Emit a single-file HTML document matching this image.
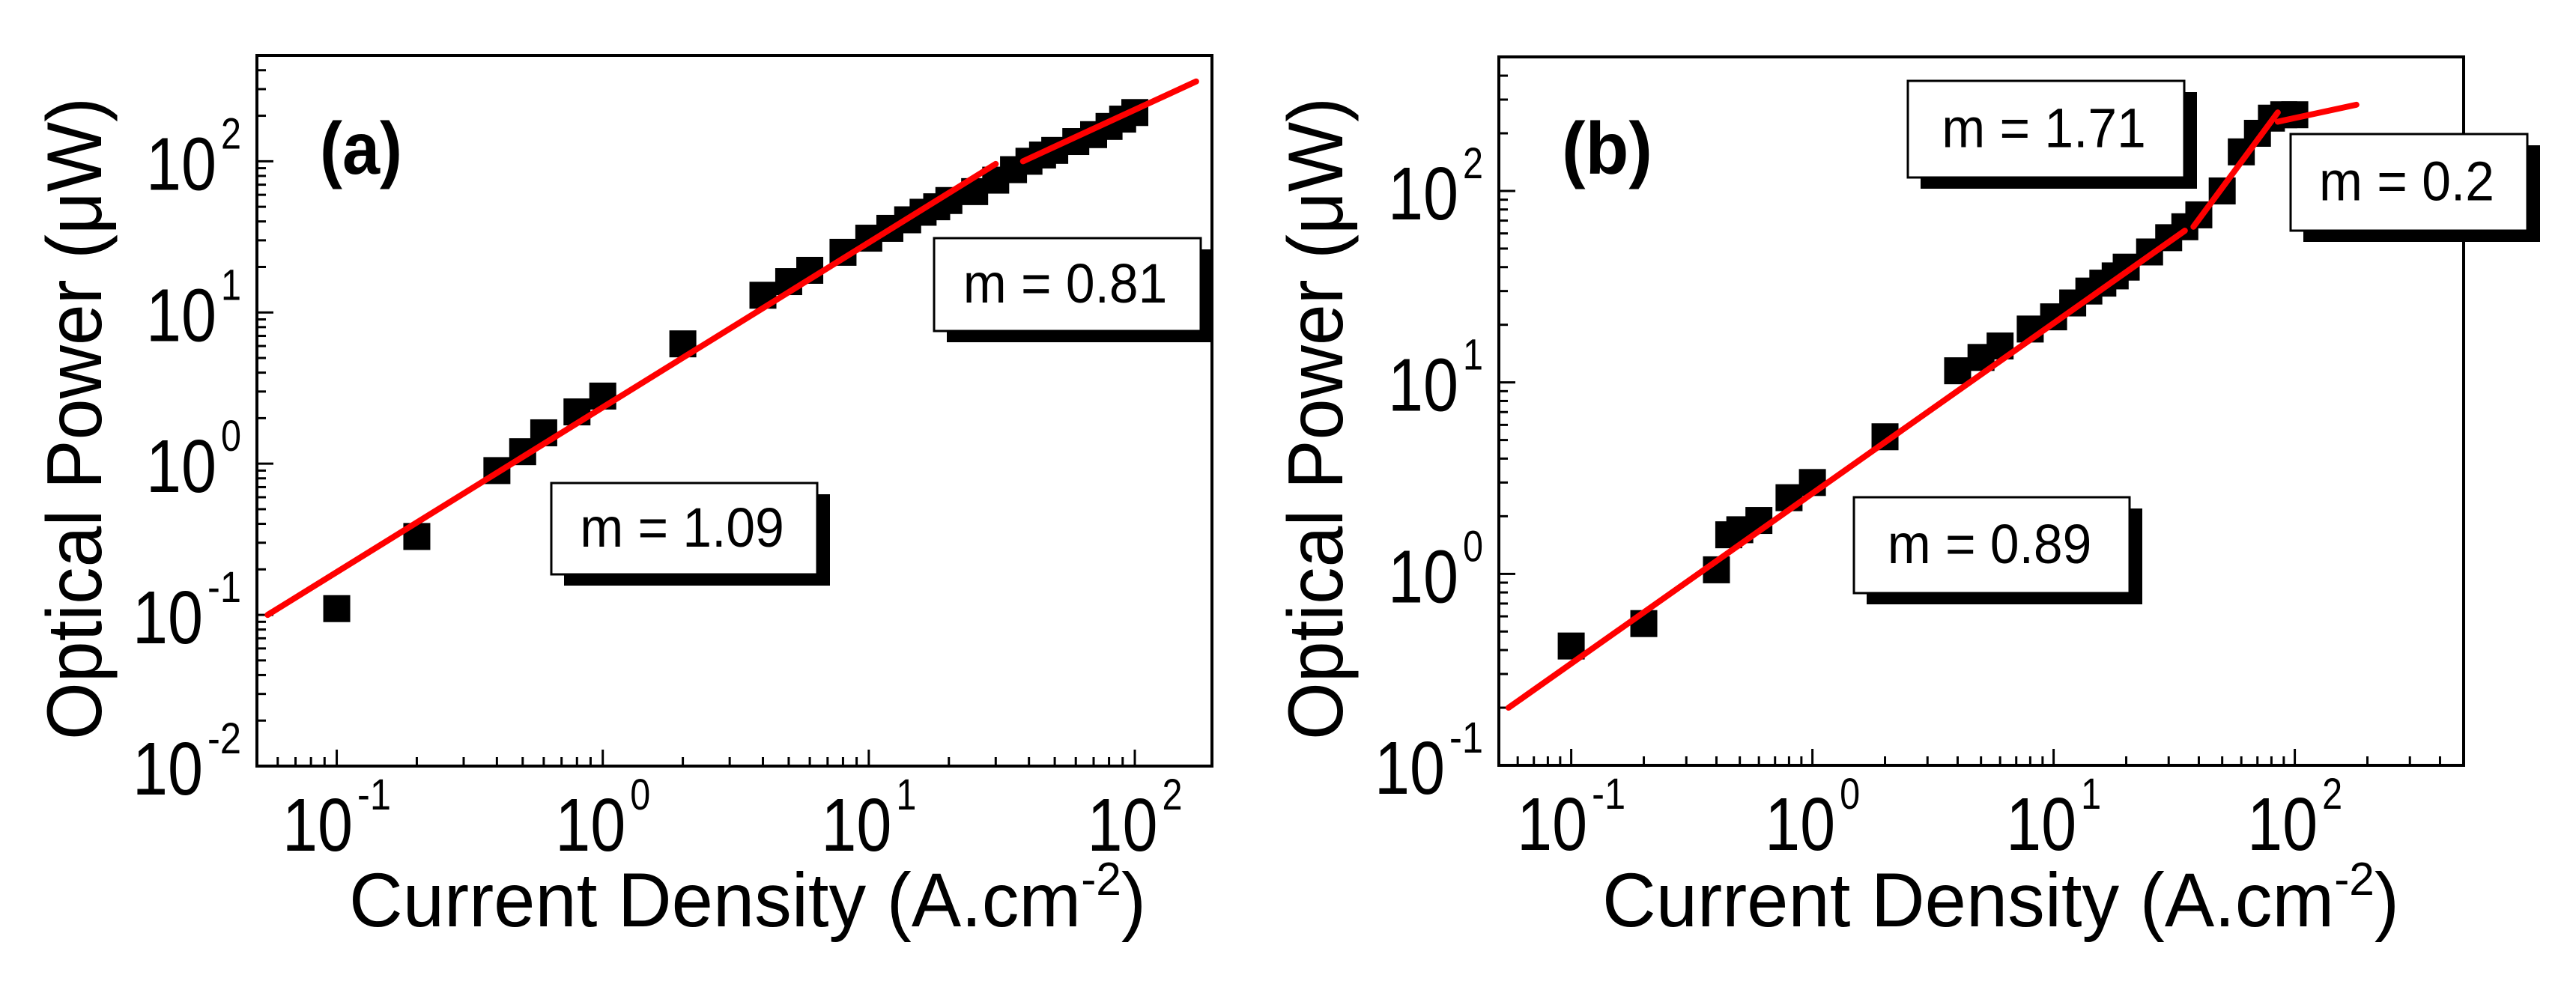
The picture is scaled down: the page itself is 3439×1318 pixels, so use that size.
<!DOCTYPE html>
<html><head><meta charset="utf-8">
<style>
html,body{margin:0;padding:0;background:#fff;}
svg{display:block;font-family:"Liberation Sans",Arial,sans-serif;}
</style></head>
<body>
<svg id="chart" width="3439" height="1318" viewBox="0 0 3439 1318" xmlns="http://www.w3.org/2000/svg"></svg>
<script>
// ---- Panel (a) data ----
const aX = [0.1,0.2,0.4,0.5,0.6,0.8,1.0,2,4,5,6,8,10,12,14,16,18,20,25,30,35,40,45,50,60,70,80,90,100];
const aY = [0.11,0.33,0.9,1.2,1.6,2.2,2.8,6.2,13,16,19,25,31,36,41,46,50,55,63,75,88,100,110,118,135,150,170,190,210];
const aFit1X = [0.055,30]; const aFit1Y = [0.1,96];
const aFit2X = [38,170]; const aFit2Y = [100,337];
const aXTicks = [-1,0,1,2];
const aYTicks = [-2,-1,0,1,2];
// ---- Panel (b) data ----
const bX = [0.1,0.2,0.4,0.45,0.5,0.6,0.8,1.0,2,4,5,6,8,10,12,14,16,18,20,25,30,35,40,50,60,70,80,90,100];
const bY = [0.42,0.55,1.05,1.6,1.7,1.9,2.5,3.0,5.2,11.5,13.5,15.5,19,22,26,30,33,36,40,48,57,65,75,100,160,200,240,250,250];
const bFit1X = [0.055,35]; const bFit1Y = [0.2,62];
const bFit2X = [38,85]; const bFit2Y = [65,257];
const bFit3X = [85,180]; const bFit3Y = [230,282];
const bXTicks = [-1,0,1,2];
const bYTicks = [-1,0,1,2];

const NS = "http://www.w3.org/2000/svg";
const svg = document.getElementById('chart');
function mk(tag, attrs, parent){
  const e = document.createElementNS(NS, tag);
  for (const k in attrs) e.setAttribute(k, attrs[k]);
  (parent||svg).appendChild(e);
  return e;
}
function squeeze(el, f){
  const w = el.getComputedTextLength();
  el.setAttribute('textLength', w*f);
  el.setAttribute('lengthAdjust', 'spacingAndGlyphs');
}
function supW(s){ let w=0; for (const c of s) w += (c==='-') ? 18 : 27; return w; }

function tickLabel(g, name, t, xStart, base){
  const tx = mk('text', {x:xStart, y:base, 'font-size':100}, g);
  
  
  tx.textContent = '10';
  tx.setAttribute('textLength', 94);
  tx.setAttribute('lengthAdjust', 'spacingAndGlyphs');
  const s = String(t);
  const sp = mk('text', {x:xStart+100, y:base-55, 'font-size':58}, g);
  
  
  sp.textContent = s;
  sp.setAttribute('textLength', supW(s));
  sp.setAttribute('lengthAdjust', 'spacingAndGlyphs');
}

function panel(p){
  const g = mk('g', {});
  
  
  const sx = v => p.L + (Math.log10(v) - p.xmin) / (p.xmax - p.xmin) * (p.R - p.L);
  const sy = v => p.B - (Math.log10(v) - p.ymin) / (p.ymax - p.ymin) * (p.B - p.T);
  const tg = mk('g', {stroke:'#000','stroke-width':3}, g);
  
  
  for (let d = Math.floor(p.xmin); d <= Math.ceil(p.xmax); d++){
    for (let m = 1; m <= 9; m++){
      const lv = d + Math.log10(m);
      if (lv < p.xmin || lv > p.xmax) continue;
      const x = sx(Math.pow(10, lv)); const len = m===1 ? 22 : 12;
      mk('line', {x1:x, x2:x, y1:p.B, y2:p.B-len}, tg);
    }
  }
  for (let d = Math.floor(p.ymin); d <= Math.ceil(p.ymax); d++){
    for (let m = 1; m <= 9; m++){
      const lv = d + Math.log10(m);
      if (lv < p.ymin || lv > p.ymax) continue;
      const y = sy(Math.pow(10, lv)); const len = m===1 ? 22 : 12;
      mk('line', {x1:p.L, x2:p.L+len, y1:y, y2:y}, tg);
    }
  }
  const fr = mk('rect', {x:p.L, y:p.T, width:p.R-p.L, height:p.B-p.T, fill:'none', stroke:'#000', 'stroke-width':4}, g);
  
  
  p.xt.forEach(t => {
    const w = 94 + 6 + supW(String(t));
    tickLabel(g, 'x-tick-label', t, sx(Math.pow(10,t)) - w/2, p.B + 113);
  });
  p.yt.forEach(t => {
    const w = 94 + 6 + supW(String(t));
    tickLabel(g, 'y-tick-label', t, p.L - 21 - w, sy(Math.pow(10,t)) + 38);
  });
  const xt = mk('text', {x:p.xtc, y:1237, 'font-size':102, 'text-anchor':'middle', textLength:1064, lengthAdjust:'spacingAndGlyphs'}, g);
  
  
  xt.appendChild(document.createTextNode('Current Density (A.cm'));
  const sup = mk('tspan', {dy:-42, 'font-size':62}, xt); sup.textContent = '-2';
  const cl = mk('tspan', {dy:42}, xt); cl.textContent = ')';
  const yt = mk('text', {x:0, y:0, 'font-size':104, 'text-anchor':'middle', textLength:858, lengthAdjust:'spacingAndGlyphs', transform:`translate(${p.ytx},559) rotate(-90)`}, g);
  
  
  yt.textContent = 'Optical Power (\u03bcW)';
  const mg = mk('g', {fill:'#000'}, g);
  
  
  p.x.forEach((v,i) => {
    const r = mk('rect', {x:sx(v)-18, y:sy(p.y[i])-18, width:36, height:36}, mg);
    
    
  });
  p.fits.forEach(f => {
    const l = mk('line', {x1:sx(f[0][0]), y1:sy(f[1][0]), x2:sx(f[0][1]), y2:sy(f[1][1]), stroke:'#ff0000', 'stroke-width':8, 'stroke-linecap':'round'}, g);
    
    
  });
  const lb = mk('text', {x:p.lab[0], y:232, 'font-size':98, 'font-weight':'bold', textLength:p.lab[1], lengthAdjust:'spacingAndGlyphs'}, g);
  
  
  lb.textContent = '(' + p.id + ')';
  p.boxes.forEach(b => {
    const bg = mk('g', {}, g);
    
    
    mk('rect', {x:b[0]+17, y:b[1]+15, width:b[2], height:b[3], fill:'#000'}, bg);
    mk('rect', {x:b[0], y:b[1], width:b[2], height:b[3], fill:'#fff', stroke:'#000', 'stroke-width':3}, bg);
    const t = mk('text', {x:b[0]+b[2]/2-3, y:b[1]+b[3]/2+24, 'font-size':74, 'text-anchor':'middle'}, bg);
    t.textContent = b[4];
    squeeze(t, 0.94);
  });
}

panel({id:'a', L:343, R:1618, T:74, B:1023, xmin:-1.30, xmax:2.29, ymin:-2, ymax:2.70,
  x:aX, y:aY, xt:aXTicks, yt:aYTicks, fits:[[aFit1X,aFit1Y],[aFit2X,aFit2Y]],
  xtc:998, ytx:135, lab:[427,110],
  boxes:[[1247,318,356,124,'m = 0.81'],[736,645,355,122,'m = 1.09']]});
panel({id:'b', L:2001, R:3289, T:76, B:1022, xmin:-1.30, xmax:2.70, ymin:-1, ymax:2.70,
  x:bX, y:bY, xt:bXTicks, yt:bYTicks, fits:[[bFit1X,bFit1Y],[bFit2X,bFit2Y],[bFit3X,bFit3Y]],
  xtc:2671, ytx:1792, lab:[2085,121],
  boxes:[[2547,108,369,129,'m = 1.71'],[3058,179,316,129,'m = 0.2'],[2475,664,368,128,'m = 0.89']]});
</script>
</body></html>
